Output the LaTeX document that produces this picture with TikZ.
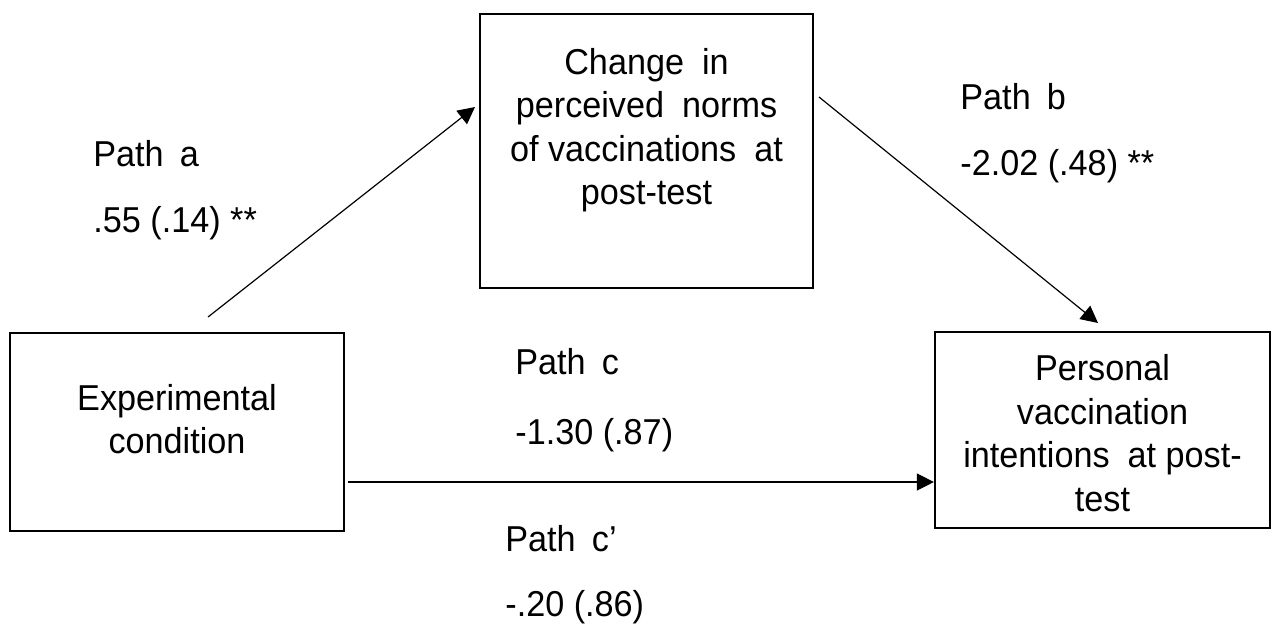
\documentclass[tikz,border=0pt]{standalone}
\usepackage{fontspec}
\setmainfont{Liberation Sans}[FakeStretch=0.95]
\usetikzlibrary{arrows.meta}
\begin{document}
\begin{tikzpicture}[x=0.5pt,y=-0.5pt,
  box/.style={draw=black,line width=1.1pt,inner sep=0pt},
  boxtext/.style={align=center,font=\fontsize{18pt}{21.75pt}\selectfont,inner sep=0pt},
  lbl/.style={anchor=base west,font=\fontsize{18pt}{20pt}\selectfont,inner sep=0pt},
  conn/.style={line width=0.6pt,-{Triangle[length=8.5pt,width=8.5pt]}}]
\useasboundingbox (0,0) rectangle (1272,623);
% boxes
\node[box,minimum width=167pt,minimum height=99pt] (exp) at (177,432) {};
\node[box,minimum width=166.5pt,minimum height=137pt] (chg) at (646.5,151) {};
\node[box,minimum width=167.5pt,minimum height=98pt] (pers) at (1102.5,430) {};
% box texts
\node[boxtext] (expt) at (177,419) {Experimental\\condition};
\node[boxtext] (chgt) at (646.5,130) {Change\hspace{0.5em}in\\perceived\hspace{0.5em}norms\\of vaccinations\hspace{0.5em}at\\post-test};
\node[boxtext] (perst) at (1102.5,433) {Personal\\vaccination\\intentions\hspace{0.5em}at post-\\test};
% labels
\node[lbl] (pa) at (93,166) {Path\hspace{0.45em}a};
\node[lbl] (pav) at (93,232) {.55 (.14) **};
\node[lbl] (pb) at (960,109) {Path\hspace{0.45em}b};
\node[lbl] (pbv) at (960,175) {-2.02 (.48) **};
\node[lbl] (pc) at (515,374) {Path\hspace{0.45em}c};
\node[lbl] (pcv) at (515,444) {-1.30 (.87)};
\node[lbl] (pcp) at (505,551) {Path\hspace{0.45em}c’};
\node[lbl] (pcpv) at (505,616) {-.20 (.86)};
% connector ends
\coordinate (aS) at (208,317);
\coordinate (aE) at (475,107);
\coordinate (bS) at (819,97);
\coordinate (bE) at (1098,323);
\coordinate (cS) at (348,482);
% connectors
\draw[conn] (aS) -- (aE);
\draw[conn] (bS) -- (bE);
\draw[conn] (cS) -- (cS -| pers.west);
\end{tikzpicture}
\end{document}
